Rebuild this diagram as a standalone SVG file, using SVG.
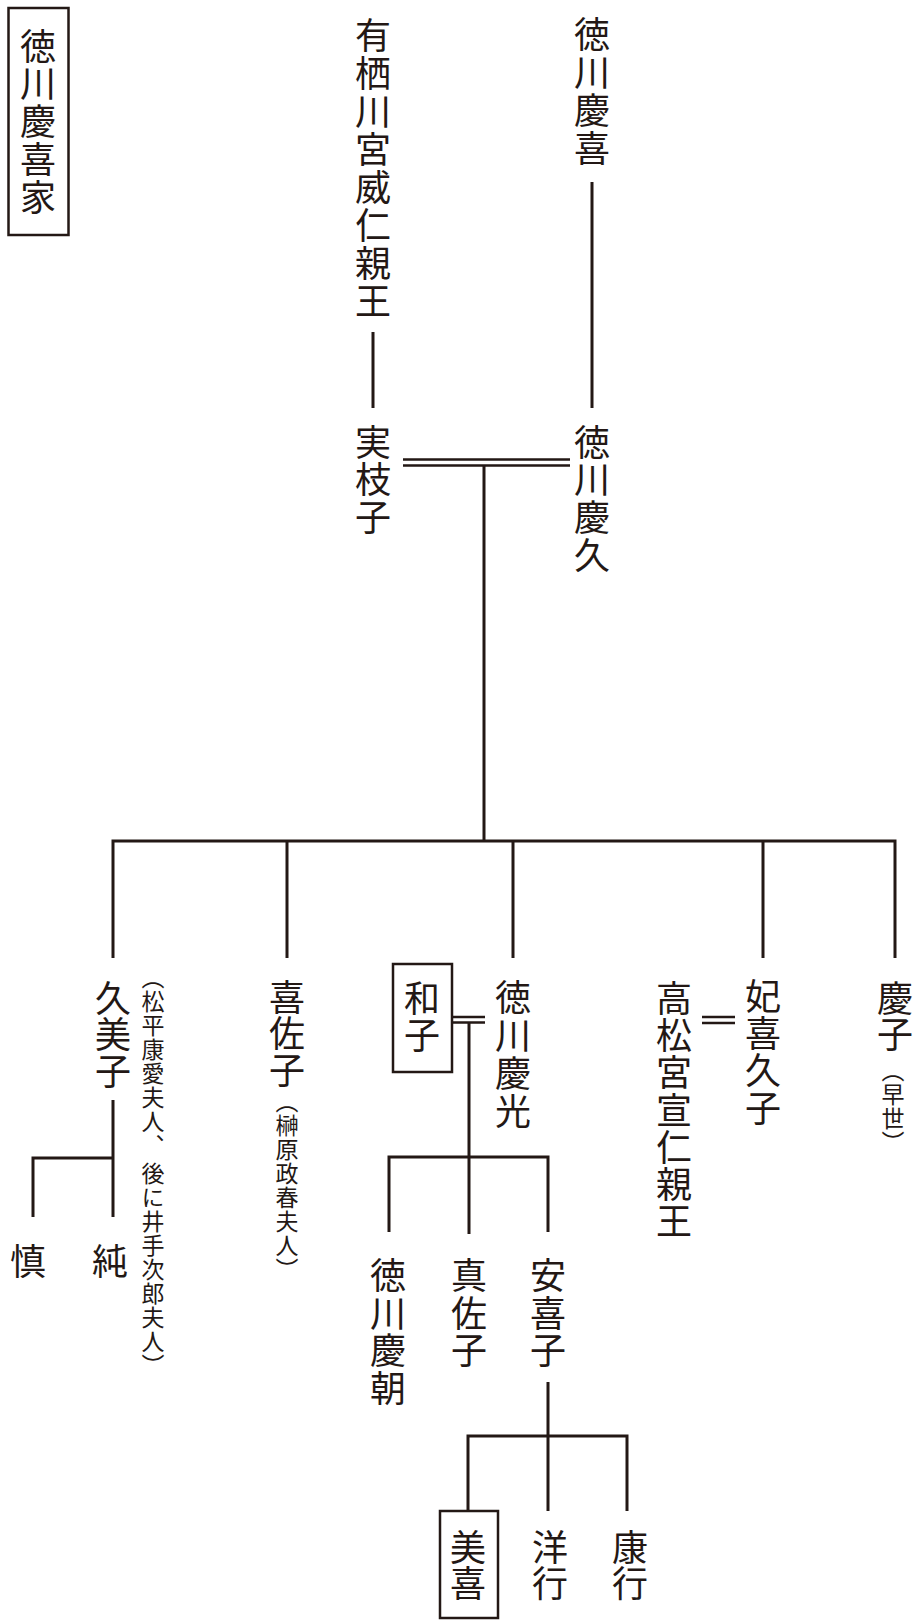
<svg xmlns="http://www.w3.org/2000/svg" width="916" height="1621" viewBox="0 0 916 1621">
<style>
.n{font-family:"Noto Sans CJK JP","Noto Sans CJK SC",sans-serif;font-size:36px;fill:#231815;writing-mode:vertical-rl;}
.s{font-family:"Noto Sans CJK JP","Noto Sans CJK SC",sans-serif;font-size:23px;fill:#231815;writing-mode:vertical-rl;}
.l{fill:none;stroke:#231815;stroke-width:3;}
.d{fill:none;stroke:#231815;stroke-width:2.5;}
.b{fill:none;stroke:#231815;stroke-width:2.5;}
</style>
<rect width="916" height="1621" fill="#fff"/>
<g id="connectors">
<path class="l" d="M373 332V408M592 182V408"/>
<path class="d" d="M403 459.5H570M403 465.5H570"/>
<path class="l" d="M484 466V841"/>
<path class="l" d="M113 958V841H895V958M287 841V958M513 841V958M763 841V958"/>
<path class="l" d="M113 1100V1217M33 1217V1158H113"/>
<path class="d" d="M452 1017H485M452 1022.5H485"/>
<path class="l" d="M469 1022V1157M389 1232V1157H548V1232M469 1157V1234"/>
<path class="d" d="M702 1017H735M702 1023H735"/>
<path class="l" d="M548 1382V1436M468 1511V1436H627V1511M548 1436V1511"/>
</g>
<g id="title"><rect class="b" x="8.5" y="8" width="60" height="227"/><text class="n" x="38" y="28" letter-spacing="1.75">徳川慶喜家</text></g>
<g id="arisugawa"><text class="n" x="373" y="17" letter-spacing="2">有栖川宮威仁親王</text></g>
<g id="yoshinobu"><text class="n" x="592" y="16" letter-spacing="2">徳川慶喜</text></g>
<g id="saneko"><text class="n" x="373" y="424" y-list="" letter-spacing="1.5">実枝子</text></g>
<g id="yoshihisa"><text class="n" x="592" y="424" letter-spacing="1.7">徳川慶久</text></g>
<g id="kumiko"><text class="n" x="113" y="980 1016.5 1053">久美子</text><text class="s" x="153" y="966 990 1014 1038 1062 1086 1110 1134 1162 1186 1210 1234 1258 1282 1306 1330 1354">（松平康愛夫人、後に井手次郎夫人）</text></g>
<g id="kisako"><text class="n" x="287" y="979 1015 1052">喜佐子</text><text class="s" x="287" y="1090 1114 1138 1162 1186 1210 1234 1258">（榊原政春夫人）</text></g>
<g id="kazuko"><rect class="b" x="393" y="964" width="59" height="108"/><text class="n" x="422" y="980 1017">和子</text></g>
<g id="yoshimitsu"><text class="n" x="513" y="979 1017 1055 1093">徳川慶光</text></g>
<g id="takamatsu"><text class="n" x="674" y="980 1017.3 1054.6 1091.9 1129.2 1166.5 1203.8">高松宮宣仁親王</text></g>
<g id="kikuko"><text class="n" x="763" y="978 1015.3 1052.6 1090">妃喜久子</text></g>
<g id="yoshiko"><text class="n" x="895" y="980 1016">慶子</text><text class="s" x="893" y="1059 1083 1107 1131">（早世）</text></g>
<g id="shin"><text class="n" x="28" y="1243">慎</text></g>
<g id="jun"><text class="n" x="110" y="1243">純</text></g>
<g id="yoshitomo"><text class="n" x="388" y="1257 1295 1332 1370">徳川慶朝</text></g>
<g id="masako"><text class="n" x="469" y="1257 1295 1332">真佐子</text></g>
<g id="akiko"><text class="n" x="548" y="1257 1295 1332">安喜子</text></g>
<g id="miki"><rect class="b" x="440" y="1511" width="58" height="107"/><text class="n" x="468" y="1529 1565">美喜</text></g>
<g id="hiroyuki"><text class="n" x="550" y="1529 1565">洋行</text></g>
<g id="yasuyuki"><text class="n" x="630" y="1529 1565">康行</text></g>
</svg>
